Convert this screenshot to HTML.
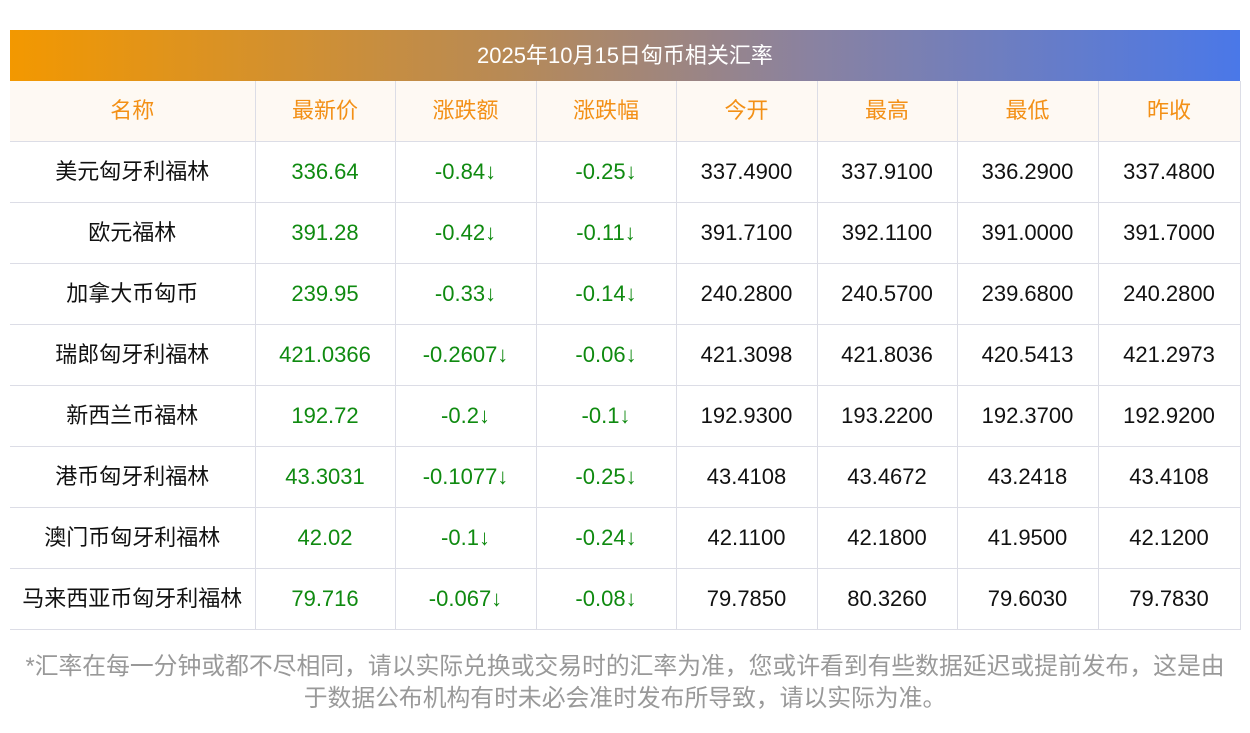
<!DOCTYPE html>
<html><head><meta charset="utf-8"><style>
body{margin:0;background:#fff;width:1250px;height:733px;overflow:hidden;font-family:"Liberation Sans","Noto Sans CJK SC",sans-serif;}
.title{position:absolute;left:10px;top:30px;width:1230px;height:51px;background:linear-gradient(90deg,#f39800,#b88a55 40%,#8a82a0 65%,#4a78e8);color:#fff;font-size:22px;line-height:51px;text-align:center;}
table{position:absolute;left:10px;top:81px;width:1230px;border-collapse:collapse;table-layout:fixed;}
td{height:60px;border:1px solid #dcdde6;text-align:center;font-size:22px;line-height:22px;color:#111;padding:0;}
tr td:first-child{border-left:none;}
tr.h td{background:#fef9f3;color:#f39016;border-top:none;}
.g{color:#0f8a10;}
.note{position:absolute;left:0;top:651px;width:1250px;text-align:center;color:#999;font-size:23.8px;line-height:32px;}
</style></head><body>
<div class="title">2025年10月15日匈币相关汇率</div>
<table>
<colgroup><col style="width:245px"><col style="width:140px"><col style="width:141px"><col style="width:140px"><col style="width:141px"><col style="width:140px"><col style="width:141px"><col style="width:142px"></colgroup>
<tr class="h"><td>名称</td><td>最新价</td><td>涨跌额</td><td>涨跌幅</td><td>今开</td><td>最高</td><td>最低</td><td>昨收</td></tr>
<tr><td>美元匈牙利福林</td><td class="g">336.64</td><td class="g">-0.84↓</td><td class="g">-0.25↓</td><td>337.4900</td><td>337.9100</td><td>336.2900</td><td>337.4800</td></tr>
<tr><td>欧元福林</td><td class="g">391.28</td><td class="g">-0.42↓</td><td class="g">-0.11↓</td><td>391.7100</td><td>392.1100</td><td>391.0000</td><td>391.7000</td></tr>
<tr><td>加拿大币匈币</td><td class="g">239.95</td><td class="g">-0.33↓</td><td class="g">-0.14↓</td><td>240.2800</td><td>240.5700</td><td>239.6800</td><td>240.2800</td></tr>
<tr><td>瑞郎匈牙利福林</td><td class="g">421.0366</td><td class="g">-0.2607↓</td><td class="g">-0.06↓</td><td>421.3098</td><td>421.8036</td><td>420.5413</td><td>421.2973</td></tr>
<tr><td>新西兰币福林</td><td class="g">192.72</td><td class="g">-0.2↓</td><td class="g">-0.1↓</td><td>192.9300</td><td>193.2200</td><td>192.3700</td><td>192.9200</td></tr>
<tr><td>港币匈牙利福林</td><td class="g">43.3031</td><td class="g">-0.1077↓</td><td class="g">-0.25↓</td><td>43.4108</td><td>43.4672</td><td>43.2418</td><td>43.4108</td></tr>
<tr><td>澳门币匈牙利福林</td><td class="g">42.02</td><td class="g">-0.1↓</td><td class="g">-0.24↓</td><td>42.1100</td><td>42.1800</td><td>41.9500</td><td>42.1200</td></tr>
<tr><td>马来西亚币匈牙利福林</td><td class="g">79.716</td><td class="g">-0.067↓</td><td class="g">-0.08↓</td><td>79.7850</td><td>80.3260</td><td>79.6030</td><td>79.7830</td></tr>
</table>
<div class="note">*汇率在每一分钟或都不尽相同，请以实际兑换或交易时的汇率为准，您或许看到有些数据延迟或提前发布，这是由<br>于数据公布机构有时未必会准时发布所导致，请以实际为准。</div>
</body></html>
